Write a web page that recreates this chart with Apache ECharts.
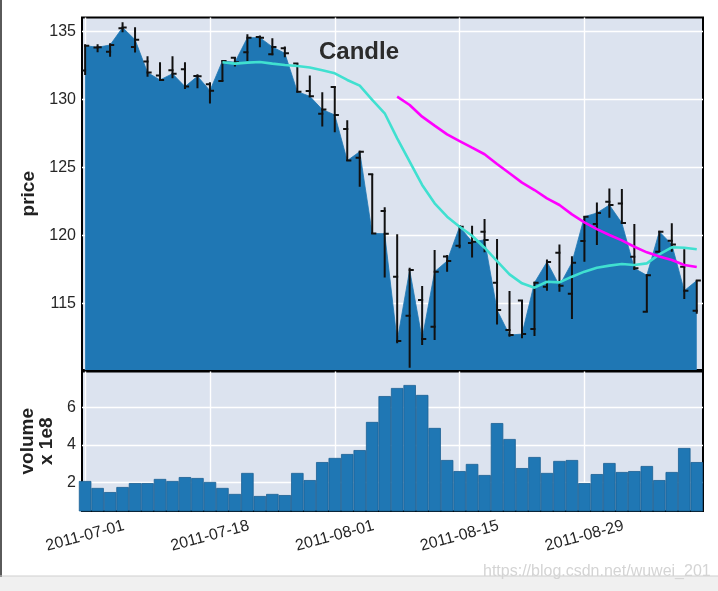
<!DOCTYPE html>
<html><head><meta charset="utf-8">
<script src="https://cdn.jsdelivr.net/npm/echarts@6/dist/echarts.min.js"></script>
<style>html,body{margin:0;padding:0;background:#fff}#c{width:718px;height:591px}</style>
</head><body><div id="c"></div>
<script>
const dates = ['2011-07-01','2011-07-05','2011-07-06','2011-07-07','2011-07-08','2011-07-11','2011-07-12','2011-07-13','2011-07-14','2011-07-15',
'2011-07-18','2011-07-19','2011-07-20','2011-07-21','2011-07-22','2011-07-25','2011-07-26','2011-07-27','2011-07-28','2011-07-29',
'2011-08-01','2011-08-02','2011-08-03','2011-08-04','2011-08-05','2011-08-08','2011-08-09','2011-08-10','2011-08-11','2011-08-12',
'2011-08-15','2011-08-16','2011-08-17','2011-08-18','2011-08-19','2011-08-22','2011-08-23','2011-08-24','2011-08-25','2011-08-26',
'2011-08-29','2011-08-30','2011-08-31','2011-09-01','2011-09-02','2011-09-06','2011-09-07','2011-09-08','2011-09-09','2011-09-12'];
const opens = [132.11,133.80,133.50,135.22,133.85,132.77,131.74,132.13,132.20,131.71,131.10,131.35,133.06,133.45,134.58,133.31,133.75,132.62,130.61,128.94,130.90,127.82,125.71,124.48,121.79,116.96,114.09,115.24,113.28,118.45,119.24,119.43,120.27,116.52,113.04,115.20,113.11,116.22,118.72,115.71,119.58,120.83,122.47,122.33,118.43,114.38,118.80,119.60,117.69,114.46];
const highs = [134.04,134.04,134.12,135.66,135.29,133.16,132.72,133.16,132.72,131.84,131.25,132.89,133.09,134.78,134.68,134.48,133.87,132.64,131.74,130.51,130.95,128.45,126.22,124.50,122.06,120.07,117.62,116.27,118.92,118.55,120.76,120.71,121.20,119.73,115.90,115.22,116.59,118.23,119.33,118.47,121.42,122.42,123.45,123.40,120.83,117.13,120.34,120.88,118.97,116.71];
const lows = [131.79,133.45,133.13,134.92,133.43,131.66,131.37,131.54,130.76,130.81,129.68,131.32,132.40,132.82,133.82,133.23,133.09,130.49,130.15,127.99,127.57,125.46,123.57,120.10,116.90,112.06,110.27,111.93,112.30,117.33,119.04,118.36,118.75,113.45,112.55,112.43,112.60,115.93,115.85,113.84,118.06,119.29,121.30,120.83,117.45,114.38,118.75,118.80,115.32,114.24];
const closes = [133.94,133.82,133.99,135.27,134.38,131.96,131.42,131.88,130.93,131.69,130.63,132.82,132.72,134.53,134.53,133.85,133.38,130.56,130.22,129.24,128.85,125.49,126.15,120.14,120.12,112.23,117.45,112.37,117.33,118.11,120.63,119.53,119.66,114.51,112.67,112.74,116.52,118.04,116.30,117.99,121.37,121.64,122.23,120.90,117.57,117.06,120.27,119.33,115.93,116.67];
const volumes = [2.07,1.70,1.48,1.75,1.96,1.96,2.18,2.07,2.28,2.23,2.02,1.70,1.38,2.50,1.27,1.38,1.32,2.50,2.12,3.08,3.30,3.51,3.72,5.22,6.60,7.03,7.19,6.66,4.90,3.19,2.60,2.98,2.39,5.16,4.31,2.76,3.35,2.50,3.14,3.19,1.96,2.44,3.03,2.55,2.60,2.87,2.12,2.55,3.83,3.08];
const ma12Start = 11;
const ma12 = [132.72,132.62,132.69,132.74,132.62,132.52,132.45,132.33,132.13,131.91,131.42,131.00,129.95,128.97,127.13,125.41,123.70,122.35,121.37,120.63,119.97,119.09,118.11,117.13,116.47,116.15,116.59,116.54,116.96,117.33,117.62,117.77,117.89,117.82,117.94,118.60,119.12,119.09,118.97];
const ma26Start = 25;
const ma26 = [130.19,129.58,128.72,128.06,127.42,126.93,126.44,125.96,125.24,124.56,123.87,123.33,122.71,122.23,121.54,120.95,120.46,120.02,119.63,119.16,118.75,118.45,118.19,117.82,117.67];
const xTickIdx = [0,10,20,30,40];
const priceTicks = [115,120,125,130,135];
const volTicks = [2,4,6];

const FONT = 'Liberation Sans, Arial, sans-serif';
const ohlcData = opens.map((o,i)=>[i,o,highs[i],lows[i],closes[i]]);
const closeData = closes.map((c,i)=>[i,c]);
const volData = volumes.map((v,i)=>[i,v]);
const ma12Data = ma12.map((v,k)=>[k+ma12Start,v]);
const ma26Data = ma26.map((v,k)=>[k+ma26Start,v]);

const chart = echarts.init(document.getElementById('c'), null, {renderer:'canvas'});
const gridLine = {show:true, lineStyle:{color:'#ffffff', width:1.4}};
chart.setOption({
  animation:false,
  backgroundColor:'#ffffff',
  textStyle:{fontFamily:FONT},
  title:{text:'Candle', left:'center', top:40, padding:0,
    textStyle:{fontFamily:FONT, fontWeight:'bold', fontSize:24, color:'#2b2b2b'}},
  grid:[
    {left:82, right:15, top:17.5, height:352.5, show:true, backgroundColor:'#dce3ef', borderColor:'#000', borderWidth:2, containLabel:false, outerBoundsMode:'none'},
    {left:82, right:15, top:371.5, height:139.5, show:true, backgroundColor:'#dce3ef', borderColor:'#000', borderWidth:2, containLabel:false, outerBoundsMode:'none'}
  ],
  xAxis:[
    {type:'value', gridIndex:0, min:-0.25, max:49.5, axisLine:{show:false},
     axisTick:{show:false, customValues:xTickIdx}, axisLabel:{show:false, customValues:xTickIdx}, splitLine:gridLine},
    {type:'value', gridIndex:1, min:-0.25, max:49.5, axisLine:{show:false},
     axisTick:{show:false, customValues:xTickIdx},
     axisLabel:{show:true, customValues:xTickIdx, rotate:15, align:'center', verticalAlign:'middle', margin:25,
       fontSize:16, color:'#262626', fontFamily:FONT, formatter:v=>dates[Math.round(v)]},
     splitLine:gridLine}
  ],
  yAxis:[
    {type:'value', gridIndex:0, min:110.1, max:136.01, axisLine:{show:false},
     axisTick:{show:false, customValues:priceTicks}, axisLabel:{customValues:priceTicks, fontSize:16, color:'#262626', margin:6, fontFamily:FONT},
     splitLine:gridLine, name:'price', nameLocation:'middle', nameGap:36,
     nameTextStyle:{fontFamily:FONT, fontWeight:'bold', fontSize:19, color:'#222'}},
    {type:'value', gridIndex:1, min:0.47, max:7.91, axisLine:{show:false},
     axisTick:{show:false, customValues:volTicks}, axisLabel:{customValues:volTicks, fontSize:16, color:'#262626', margin:6, fontFamily:FONT},
     splitLine:gridLine, name:'volume\nx 1e8', nameLocation:'middle', nameGap:26,
     nameTextStyle:{fontFamily:FONT, fontWeight:'bold', fontSize:19, color:'#222', lineHeight:19, align:'center'}}
  ],
  series:[
    {type:'line', xAxisIndex:0, yAxisIndex:0, data:closeData, showSymbol:false, symbol:'none', z:2,
     lineStyle:{color:'#1f77b4', width:0.8}, areaStyle:{color:'#1f77b4', opacity:1, origin:'start'}},
    {type:'custom', xAxisIndex:0, yAxisIndex:0, data:ohlcData, z:3, clip:true,
     encode:{x:0, y:[1,2,3,4]},
     renderItem:function(params, api){
       const x=api.value(0), o=api.value(1), h=api.value(2), l=api.value(3), c=api.value(4);
       const pH=api.coord([x,h]), pL=api.coord([x,l]), pO=api.coord([x,o]), pC=api.coord([x,c]);
       const w=api.size([1,0])[0]*0.33;
       const st={stroke:'#111111', lineWidth:2};
       return {type:'group', children:[
         {type:'line', shape:{x1:pH[0], y1:pH[1], x2:pL[0], y2:pL[1]}, style:st},
         {type:'line', shape:{x1:pO[0]-w, y1:pO[1], x2:pO[0]+1, y2:pO[1]}, style:st},
         {type:'line', shape:{x1:pC[0]-1, y1:pC[1], x2:pC[0]+w, y2:pC[1]}, style:st}
       ]};
     }},
    {type:'line', xAxisIndex:0, yAxisIndex:0, data:ma12Data, showSymbol:false, symbol:'none', z:4,
     lineStyle:{color:'#40e0d0', width:2.6}},
    {type:'line', xAxisIndex:0, yAxisIndex:0, data:ma26Data, showSymbol:false, symbol:'none', z:4,
     lineStyle:{color:'#ff00ff', width:2.6}},
    {type:'bar', xAxisIndex:1, yAxisIndex:1, data:volData, barWidth:'100%', z:2,
     itemStyle:{color:'#1f77b4', borderColor:'#1a5f93', borderWidth:0.8}}
  ],
  graphic:[
    {type:'rect', shape:{x:0, y:0, width:2, height:577}, style:{fill:'#5a5a5a'}, z:100},
    {type:'rect', shape:{x:0, y:576, width:718, height:15}, style:{fill:'#f0f0f0'}, z:99},
    {type:'line', shape:{x1:0, y1:576, x2:718, y2:576}, style:{stroke:'#cfcfcf', lineWidth:1}, z:100},
    {type:'text', x:483, y:572, style:{text:'https://blog.csdn.net/wuwei_201', fill:'#d4d4d4', font:'16px '+FONT, textVerticalAlign:'middle'}, z:101}
  ]
});
</script>
</body></html>
